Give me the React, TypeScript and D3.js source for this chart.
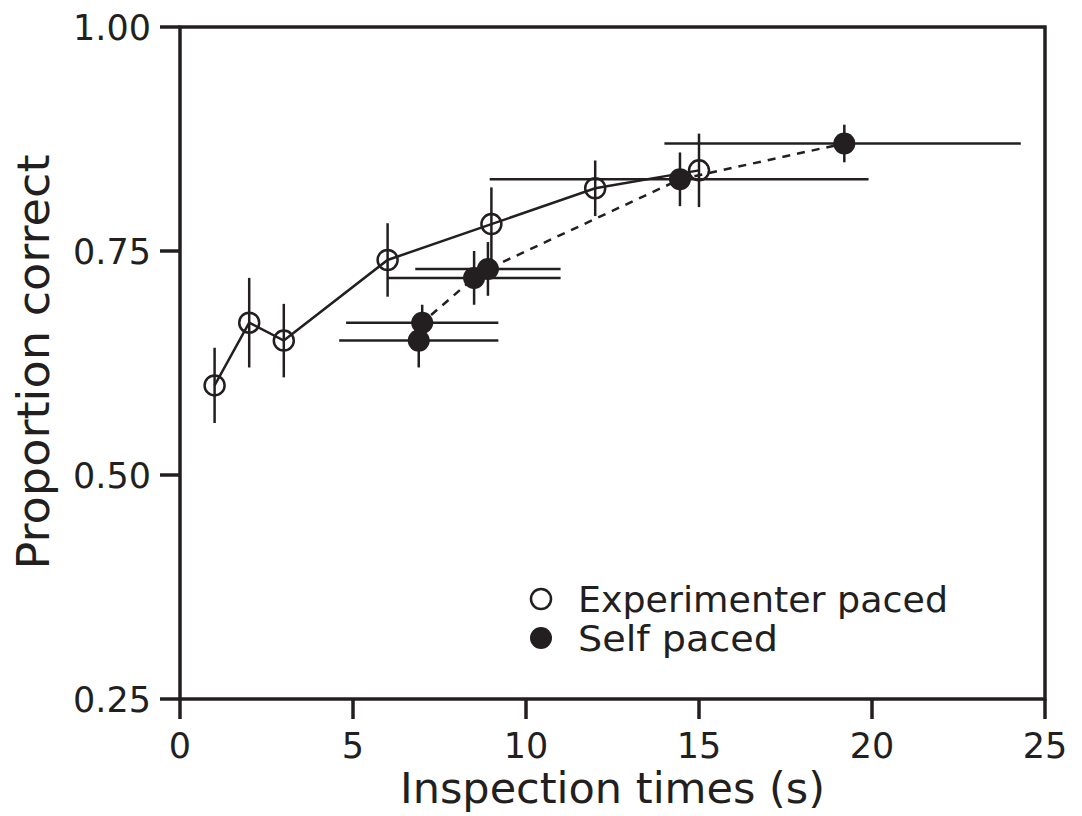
import React from "react";
import * as d3 from "d3";

// Experimenter paced (open circles, solid line)
const expX = [1, 2, 3, 6, 9, 12, 15];
const expY = [0.6, 0.67, 0.65, 0.74, 0.78, 0.82, 0.84];
const expErrY = [0.042, 0.05, 0.041, 0.041, 0.041, 0.031, 0.041];

// Self paced (filled circles, dashed line), with horizontal error ranges
const selfX = [6.9, 7.0, 8.5, 8.9, 14.45, 19.2];
const selfY = [0.65, 0.67, 0.72, 0.73, 0.83, 0.87];
const selfErrY = [0.03, 0.02, 0.03, 0.03, 0.03, 0.021];
const selfXLo = [4.6, 4.8, 6.0, 6.8, 8.95, 14.0];
const selfXHi = [9.2, 9.2, 11.0, 11.0, 19.9, 24.3];

const xTicks = [0, 5, 10, 15, 20, 25];
const yTicks = [0.25, 0.5, 0.75, 1.0];

const width = 1082;
const height = 816;
const margin = { top: 27, right: 37, bottom: 117, left: 180 };
const font = "DejaVu Sans, sans-serif";
const ink = "#231f20";

export default function App() {
  const x = d3.scaleLinear().domain([0, 25]).range([margin.left, width - margin.right]);
  const y = d3.scaleLinear().domain([0.25, 1.0]).range([height - margin.bottom, margin.top]);

  const line = d3
    .line<[number, number]>()
    .x((d) => x(d[0]))
    .y((d) => y(d[1]));

  const expPts = expX.map((v, i) => [v, expY[i]] as [number, number]);
  const selfPts = selfX.map((v, i) => [v, selfY[i]] as [number, number]);

  const x0 = x(0);
  const x1 = x(25);
  const y0 = y(0.25);
  const y1 = y(1.0);
  const r = 10;

  return (
    <svg
      width={width}
      height={height}
      style={{ position: "absolute", left: 0, top: 0, background: "#fff" }}
    >
      {/* frame */}
      <rect x={x0} y={y1} width={x1 - x0} height={y0 - y1} fill="none" stroke={ink} strokeWidth={3.5} />

      {/* y ticks */}
      {yTicks.map((t) => (
        <g key={"y" + t}>
          <line x1={x0 - 20} x2={x0} y1={y(t)} y2={y(t)} stroke={ink} strokeWidth={3.5} />
          <text
            x={x0 - 29}
            y={y(t)}
            dy="0.36em"
            textAnchor="end"
            fontFamily={font}
            fontSize={35}
            fill={ink}
          >
            {t.toFixed(2)}
          </text>
        </g>
      ))}

      {/* x ticks */}
      {xTicks.map((t) => (
        <g key={"x" + t}>
          <line x1={x(t)} x2={x(t)} y1={y0} y2={y0 + 20} stroke={ink} strokeWidth={3.5} />
          <text
            x={x(t)}
            y={y0 + 34}
            dy="0.72em"
            textAnchor="middle"
            fontFamily={font}
            fontSize={35}
            fill={ink}
          >
            {t}
          </text>
        </g>
      ))}

      {/* axis titles */}
      <text
        x={(x0 + x1) / 2}
        y={803}
        textAnchor="middle"
        fontFamily={font}
        fontSize={42}
        fill={ink}
        textLength={425}
        lengthAdjust="spacingAndGlyphs"
      >
        Inspection times (s)
      </text>
      <text
        transform={`translate(49,362) rotate(-90)`}
        textAnchor="middle"
        fontFamily={font}
        fontSize={44}
        fill={ink}
        textLength={415}
        lengthAdjust="spacingAndGlyphs"
      >
        Proportion correct
      </text>

      {/* self paced horizontal error bars */}
      {selfPts.map((d, i) => (
        <line
          key={"sh" + i}
          x1={x(selfXLo[i])}
          x2={x(selfXHi[i])}
          y1={y(d[1])}
          y2={y(d[1])}
          stroke={ink}
          strokeWidth={2.5}
        />
      ))}

      {/* lines */}
      <path d={line(expPts) ?? ""} fill="none" stroke={ink} strokeWidth={2.5} />
      <path d={line(selfPts) ?? ""} fill="none" stroke={ink} strokeWidth={2.5} strokeDasharray="8,7" />

      {/* vertical error bars */}
      {expPts.map((d, i) => (
        <line
          key={"ev" + i}
          x1={x(d[0])}
          x2={x(d[0])}
          y1={y(d[1] - expErrY[i])}
          y2={y(d[1] + expErrY[i])}
          stroke={ink}
          strokeWidth={2.5}
        />
      ))}
      {selfPts.map((d, i) => (
        <line
          key={"sv" + i}
          x1={x(d[0])}
          x2={x(d[0])}
          y1={y(d[1] - selfErrY[i])}
          y2={y(d[1] + selfErrY[i])}
          stroke={ink}
          strokeWidth={2.5}
        />
      ))}

      {/* markers */}
      {expPts.map((d, i) => (
        <circle key={"ec" + i} cx={x(d[0])} cy={y(d[1])} r={r} fill="none" stroke={ink} strokeWidth={2.5} />
      ))}
      {selfPts.map((d, i) => (
        <circle key={"sc" + i} cx={x(d[0])} cy={y(d[1])} r={r + 1} fill={ink} />
      ))}

      {/* legend */}
      <circle cx={541} cy={599} r={r} fill="none" stroke={ink} strokeWidth={2.5} />
      <text
        x={578}
        y={612}
        fontFamily={font}
        fontSize={36}
        fill={ink}
        textLength={370}
        lengthAdjust="spacingAndGlyphs"
      >
        Experimenter paced
      </text>
      <circle cx={541} cy={638} r={r + 1} fill={ink} />
      <text
        x={578}
        y={651}
        fontFamily={font}
        fontSize={36}
        fill={ink}
        textLength={200}
        lengthAdjust="spacingAndGlyphs"
      >
        Self paced
      </text>
    </svg>
  );
}
